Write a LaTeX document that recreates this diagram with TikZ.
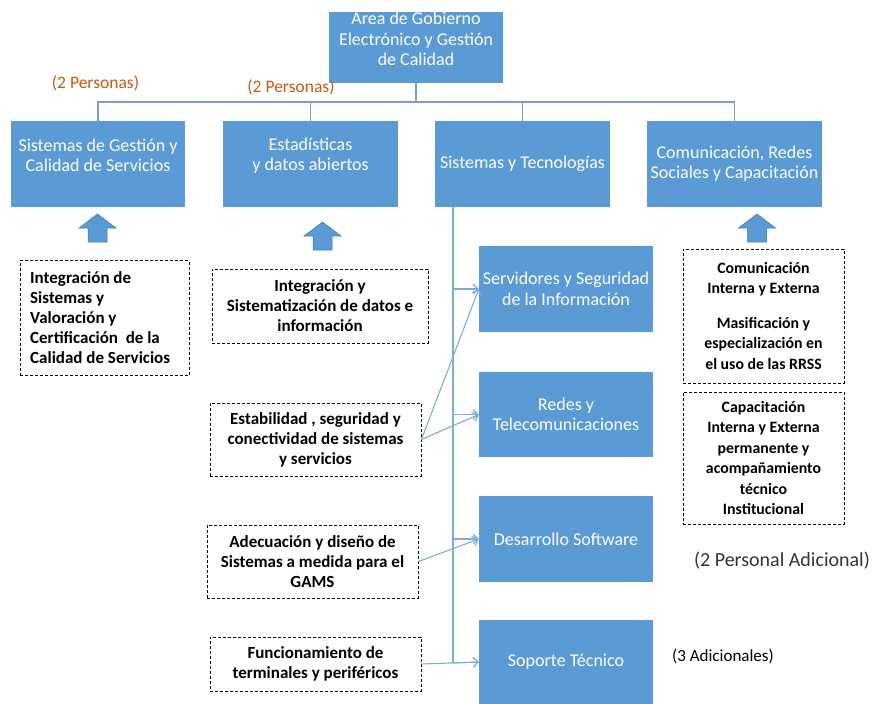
\documentclass[tikz,border=0pt]{standalone}
\usepackage{fontspec}
\setmainfont{Carlito}
\usetikzlibrary{arrows.meta}
\definecolor{boxblue}{HTML}{5B9BD5}
\definecolor{arrowedge}{HTML}{41719C}
\definecolor{treeline}{HTML}{7F9DBF}
\definecolor{subline}{HTML}{7EABDA}
\definecolor{orangetxt}{HTML}{C55A11}
\definecolor{graytxt}{HTML}{333333}
\begin{document}
\begin{tikzpicture}[x=1pt,y=-1pt,
 bluebox/.style={fill=boxblue, draw=none, inner sep=0pt},
 boxtext/.style={text=white, font=\fontsize{18}{20.5}\selectfont, align=center, inner sep=0pt},
 dashbox/.style={draw=black, dash pattern=on 3pt off 2pt, line width=0.8pt, inner sep=0pt},
 dashtext/.style={font=\bfseries\fontsize{17}{20}\selectfont, align=center},
 dashsmall/.style={font=\bfseries\fontsize{15.8}{20.5}\selectfont, align=center},
 tree/.style={draw=treeline, line width=1.3pt},
 trunk/.style={draw=subline, line width=1.1pt},
 sub/.style={draw=subline, line width=1.1pt, -{Straight Barb[length=5pt,width=10pt]}},
 blockarrow/.style={fill=boxblue, draw=arrowedge, line width=0.5pt},
 uparr/.pic={\draw[blockarrow] (-9.5,28) -- (-9.5,14) -- (-18.5,14) -- (0,0) -- (18.5,14) -- (9.5,14) -- (9.5,28) -- cycle;}]
\useasboundingbox (0,0) rectangle (873,704);

% top box
\node[bluebox, minimum width=174pt, minimum height=71pt] (top) at (416,47.5) {};
\node[boxtext] (toptxt) at (416,39) {Area de Gobierno\\Electrónico y Gestión\\de Calidad};

% level 1 boxes
\node[bluebox, minimum width=174pt, minimum height=86pt] (b1) at (98,164) {};
\node[bluebox, minimum width=175pt, minimum height=86pt] (b2) at (310.5,164) {};
\node[bluebox, minimum width=175pt, minimum height=86pt] (b3) at (522.5,164) {};
\node[bluebox, minimum width=175pt, minimum height=86pt] (b4) at (734.5,164) {};
\node[boxtext] (b1t) at (98,155.5) {Sistemas de Gestión y\\Calidad de Servicios};
\node[boxtext] (b2t) at (310.5,155.5) {Estadísticas\\y datos abiertos};
\node[boxtext] (b3t) at (522.5,164) {Sistemas y Tecnologías};
\node[boxtext] (b4t) at (734.5,163.5) {Comunicación, Redes\\Sociales y Capacitación};

% tree connectors
\coordinate (bus) at (416,102);
\draw[tree] (top.south) -- (bus);
\draw[tree] (b1.north) -- (b1.north |- bus) -- (b4.north |- bus) -- (b4.north);
\draw[tree] (b2.north) -- (b2.north |- bus);
\draw[tree] (b3.north) -- (b3.north |- bus);

% sub boxes
\node[bluebox, minimum width=174pt, minimum height=86pt] (s1) at (566,289) {};
\node[bluebox, minimum width=174pt, minimum height=85pt] (s2) at (566,414.5) {};
\node[bluebox, minimum width=174pt, minimum height=86pt] (s3) at (566,539) {};
\node[bluebox, minimum width=174pt, minimum height=84pt] (s4) at (566,662) {};
\node[boxtext] (s1t) at (566,289) {Servidores y Seguridad\\de la Información};
\node[boxtext] (s2t) at (566,414.5) {Redes y\\Telecomunicaciones};
\node[boxtext] (s3t) at (566,539) {Desarrollo Software};
\node[boxtext] (s4t) at (566,662) {Soporte Técnico};

% trunk
\coordinate (t0) at (453,207);
\coordinate (t4) at (453,663);
\draw[trunk] (t0) -- (t4);
\draw[sub] (t0 |- s1.west) -- (s1.west);
\draw[sub] (t0 |- s2.west) -- (s2.west);
\draw[sub] (t0 |- s3.west) -- (s3.west);
\draw[sub] (t4) -- (s4.west);

% dashed boxes
\node[dashbox, minimum width=169pt, minimum height=115pt] (d1) at (104.5,318) {};
\node[dashtext, align=left, anchor=west, inner sep=0pt] (d1t) at (30,317.5) {Integración de\\Sistemas y\\Valoración y\\Certificación~ de la\\Calidad de Servicios};
\node[dashbox, dashtext, minimum width=216pt, minimum height=74pt] (d2) at (320,306) {Integración y\\Sistematización de datos e\\información};
\node[dashbox, dashtext, minimum width=211pt, minimum height=73pt] (e) at (315.5,439.5) {Estabilidad , seguridad y\\conectividad de sistemas\\y servicios};
\node[dashbox, dashtext, minimum width=211pt, minimum height=73pt] (a) at (312.5,561.5) {Adecuación y diseño de\\Sistemas a medida para el\\GAMS};
\node[dashbox, dashtext, minimum width=211pt, minimum height=54pt] (f) at (315.5,664) {Funcionamiento de\\terminales y periféricos};
\node[dashbox, dashsmall, minimum width=161pt, minimum height=134pt] (r1) at (763.5,316) {Comunicación\\Interna y Externa\\[14pt]Masificación y\\especialización en\\el uso de las RRSS};
\node[dashbox, dashsmall, minimum width=161pt, minimum height=132pt] (r2) at (763.5,458) {Capacitación\\Interna y Externa\\permanente y\\acompañamiento\\técnico\\Institucional};

% connectors from dashed boxes
\draw[sub] (e.east) -- (s1.west);
\draw[sub] (e.east) -- (s2.west);
\draw[sub] (a.east) -- (s3.west);
\draw[sub] (f.east) -- (s4.west);

% block arrows
\pic at (97.5,214) {uparr};
\pic at (322.5,222) {uparr};
\pic at (757,214) {uparr};

% labels
\node[text=orangetxt, font=\fontsize{17.5}{20}\selectfont] (p1) at (95.5,83) {(2 Personas)};
\node[text=orangetxt, font=\fontsize{17.5}{20}\selectfont] (p2) at (291,87) {(2 Personas)};
\node[text=graytxt, font=\fontsize{20}{24}\selectfont] (p3) at (782,561) {(2 Personal Adicional)};
\node[text=black, font=\fontsize{17}{20}\selectfont] (p4) at (723,656) {(3 Adicionales)};
\end{tikzpicture}
\end{document}
